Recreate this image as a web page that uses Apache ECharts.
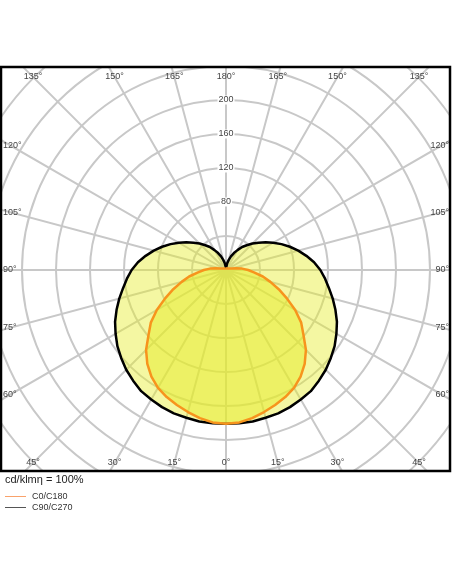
<!DOCTYPE html>
<html>
<head>
<meta charset="utf-8">
<script src="https://cdn.jsdelivr.net/npm/echarts@6/dist/echarts.min.js"></script>
<style>
html,body{margin:0;padding:0;background:#fff;}
#chart{width:452px;height:584px;}
</style>
</head>
<body>
<div id="chart"></div>
<script>
// Gamma angles (degrees from nadir)
const gammaAngles = [0,5,10,15,20,25,30,35,40,45,50,55,60,65,70,75,80,85,90,95,100,105,110,115,120,125,130,135,140,145,150,155,160,165,170,175,180];
// C90/C270 plane intensities (cd/klm)
const c90c270 = [181,181,181,180,179.5,178,176,174,170,166,161,156,150,144,137,130,123,117,111,104,96,88,80,72,64,57,50,44,38,33,27,22,17,12,8,4,2];
// C0/C180 plane intensities (cd/klm)
const c0c180 = [181,180,177,173,169,165,160,153,144,133,119,108,94,79,66,54,44,33,26,19,12,7,5,4,4,3,3,3,3,3,2,2,2,2,2,2,2];
// Tick labels
const radiusTickLabels = [80,120,160,200];
const angleTickLabels = [0,15,30,45,60,75,90,105,120,135,150,165,180];
const unitText = 'cd/klmη = 100%';
const seriesNames = ['C0/C180','C90/C270'];

function planeData(vals){
  const out = [];
  for (let i = gammaAngles.length-1; i >= 0; i--) out.push([vals[i], -gammaAngles[i]]);
  for (let i = 1; i < gammaAngles.length; i++) out.push([vals[i], gammaAngles[i]]);
  return out;
}

const cx = 226, cy = 270;
const font = '"Liberation Sans", Arial, sans-serif';
const graphics = [];
[[0,0,452,67],[0,471,452,113],[0,0,1,584],[450,0,2,584]].forEach(r=>{
  graphics.push({type:'rect', z:100, silent:true, shape:{x:r[0],y:r[1],width:r[2],height:r[3]}, style:{fill:'#fff'}});
});
graphics.push({type:'rect', z:101, silent:true, shape:{x:1,y:67,width:449,height:404}, style:{fill:null, stroke:'#000', lineWidth:2.5}});
const T=77, B=463, XL=10, XR=442;
angleTickLabels.forEach(a=>{
  [1,-1].forEach(side=>{
    if ((a===0 || a===180) && side===-1) return;
    const rad = a*Math.PI/180;
    const dx = -side*Math.sin(rad), dy = Math.cos(rad);
    let tb = Infinity, ts = Infinity;
    if (dy > 1e-9) tb = (B-cy)/dy; else if (dy < -1e-9) tb = (T-cy)/dy;
    if (dx < -1e-9) ts = (XL-cx)/dx; else if (dx > 1e-9) ts = (XR-cx)/dx;
    let x, y, align;
    if (tb <= ts) { x = cx + dx*tb; y = dy>0 ? B : T; align='center'; }
    else { y = cy + dy*ts; if (dx<0){x=3;align='left';} else {x=449;align='right';} }
    graphics.push({type:'text', z:102, silent:true, x:x, y:y, style:{text:a+'°', fill:'#444', font:'9px '+font, textAlign:align, textVerticalAlign:'middle'}});
  });
});
graphics.push({type:'text', z:102, silent:true, x:5, y:480, style:{text:unitText, fill:'#222', font:'11px '+font, textVerticalAlign:'middle'}});

const chart = echarts.init(document.getElementById('chart'), null, {renderer:'canvas'});
chart.setOption({
  animation:false,
  backgroundColor:'#fff',
  polar:{center:[cx,cy], radius:306},
  angleAxis:{
    type:'value', min:-180, max:180, interval:15, startAngle:90, clockwise:true,
    axisLine:{show:false}, axisTick:{show:false}, axisLabel:{show:false},
    splitLine:{show:true, lineStyle:{color:'#c8c8c8', width:2}}
  },
  radiusAxis:{
    type:'value', min:0, max:360, interval:40,
    axisLine:{show:false}, axisTick:{show:false},
    axisLabel:{
      show:true, margin:0, align:'center', verticalAlign:'middle',
      formatter:function(v){ return radiusTickLabels.indexOf(v)>=0 ? String(v) : ''; },
      color:'#444', fontSize:9, fontFamily:font, backgroundColor:'#fff', padding:[0,1]
    },
    splitLine:{show:true, lineStyle:{color:'#c8c8c8', width:2}}
  },
  legend:{
    z:110,
    orient:'vertical', left:5, top:491, padding:0, itemGap:0, itemWidth:21, itemHeight:1, icon:'rect',
    textStyle:{fontSize:9, fontFamily:font, color:'#333', lineHeight:11, padding:[0,0,0,1]},
    data:[
      {name:seriesNames[0], icon:'rect', itemStyle:{color:'#f9a26b', borderWidth:0}, lineStyle:{color:'#f9a26b'}},
      {name:seriesNames[1], icon:'rect', itemStyle:{color:'#555', borderWidth:0}, lineStyle:{color:'#555'}}
    ]
  },
  graphic:graphics,
  series:[
    {
      name:seriesNames[1], type:'line', coordinateSystem:'polar', z:2,
      data:planeData(c90c270), showSymbol:false, smooth:false,
      lineStyle:{color:'#000', width:2.5},
      itemStyle:{color:'#555'},
      areaStyle:{color:'rgb(230,236,40)', opacity:0.43}
    },
    {
      name:seriesNames[0], type:'line', coordinateSystem:'polar', z:3,
      data:planeData(c0c180), showSymbol:false, smooth:false,
      lineStyle:{color:'#f7941d', width:2.5},
      itemStyle:{color:'#f9a26b'},
      areaStyle:{color:'rgb(230,236,40)', opacity:0.5}
    }
  ]
});
</script>
</body>
</html>
